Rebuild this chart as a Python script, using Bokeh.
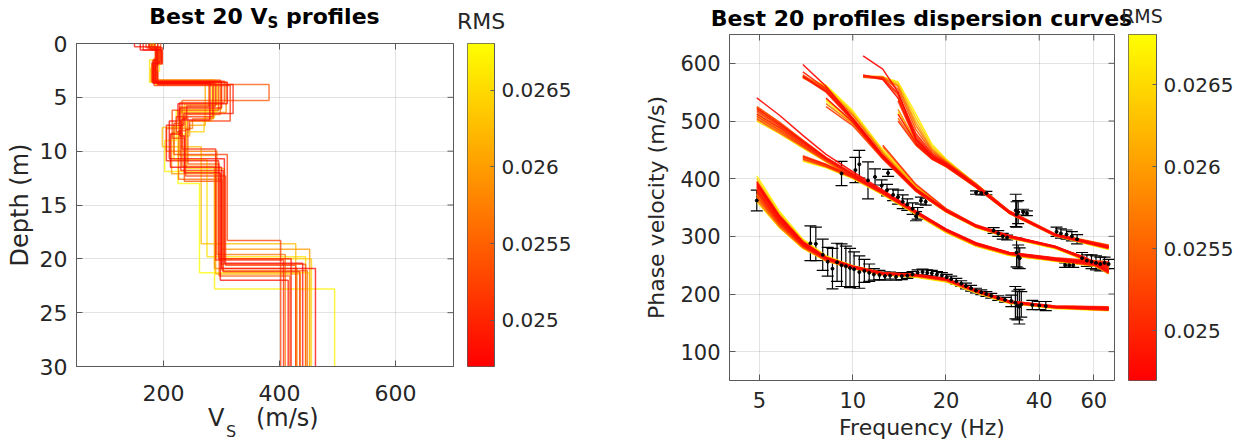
import numpy as np
from bokeh.plotting import figure
from bokeh.layouts import row, column
from bokeh.models import (Range1d, FixedTicker, LinearColorMapper,
                          CustomJSTickFormatter, PrintfTickFormatter, Whisker, TeeHead,
                          ColumnDataSource, Div)
from bokeh.embed import file_html
from bokeh.resources import INLINE

FONT = "DejaVu Sans"
AX = "#5a5a5a"
TXT = "#262626"

# ---------------- data ----------------
# misfit (RMS) of the 20 best models, best first
rms = [0.02475, 0.02478, 0.02482, 0.02490, 0.02498, 0.02505, 0.02512, 0.02520, 0.02530, 0.02542,
       0.02555, 0.02568, 0.02580, 0.02595, 0.02610, 0.02625, 0.02640, 0.02655, 0.02668, 0.02678]
rms_low, rms_high = 0.024698, 0.026805
rms_ticks = [0.025, 0.0255, 0.026, 0.0265]

# layer interface depths (m) of each model
depths = [
    [0.6, 1.8, 3.7, 7.1, 8.4, 11.5, 20.9],
    [0.4, 2.0, 3.6, 5.6, 7.2, 10.7, 20.4],
    [0.5, 1.5, 3.5, 6.0, 8.6, 12.0, 22.0],
    [0.3, 1.7, 3.8, 6.5, 7.6, 10.9, 20.0],
    [0.6, 2.5, 3.7, 5.8, 7.0, 9.8, 20.1],
    [0.5, 1.6, 3.6, 6.8, 8.2, 11.8, 21.2],
    [0.4, 1.9, 3.9, 7.2, 8.0, 12.3, 20.6],
    [0.6, 2.2, 3.5, 5.5, 7.4, 10.3, 18.3],
    [0.5, 1.8, 3.6, 6.2, 8.8, 12.8, 20.5],
    [0.3, 2.7, 3.8, 5.3, 6.9, 11.2, 21.6],
    [0.6, 1.6, 3.4, 6.6, 8.1, 12.6, 21.1],
    [0.5, 2.1, 3.7, 7.0, 7.9, 10.0, 19.6],
    [0.4, 1.4, 3.5, 5.9, 7.3, 11.4, 20.9],
    [0.6, 2.4, 3.6, 6.4, 8.3, 12.1, 19.1],
    [0.5, 1.7, 3.7, 7.6, 8.6, 10.4, 21.4],
    [0.4, 2.3, 3.5, 5.7, 7.8, 9.6, 18.6],
    [0.6, 1.9, 3.4, 6.9, 8.2, 11.6, 20.0],
    [0.3, 1.5, 3.6, 6.1, 7.7, 10.8, 19.8],
    [0.5, 2.6, 3.8, 6.3, 9.0, 11.9, 22.8],
    [0.4, 1.8, 3.5, 7.2, 8.4, 13.0, 21.3],
]
# shear-wave velocity (m/s) of each layer, last value is the half-space
vs = [
    [160, 197, 182, 280, 230, 212, 300, 462],
    [190, 188, 186, 310, 225, 210, 305, 440],
    [175, 190, 183, 300, 228, 236, 298, 415],
    [150, 195, 190, 320, 235, 205, 295, 420],
    [165, 186, 188, 290, 240, 232, 290, 407],
    [185, 192, 181, 285, 222, 230, 303, 435],
    [170, 198, 184, 315, 245, 238, 307, 428],
    [180, 189, 186, 305, 228, 218, 310, 402],
    [195, 193, 180, 295, 215, 236, 300, 445],
    [175, 187, 190, 382, 232, 242, 296, 418],
    [185, 196, 185, 298, 238, 226, 301, 448],
    [178, 190, 187, 286, 250, 205, 292, 410],
    [182, 194, 184, 278, 228, 232, 288, 430],
    [190, 188, 182, 308, 226, 214, 300, 452],
    [180, 192, 189, 272, 245, 228, 290, 436],
    [176, 186, 178, 292, 236, 198, 265, 428],
    [180, 197, 180, 288, 270, 240, 305, 455],
    [178, 189, 176, 300, 232, 218, 275, 445],
    [182, 193, 186, 294, 222, 202, 288, 495],
    [185, 191, 187, 283, 240, 225, 262, 452],
]
max_depth = 30

# theoretical dispersion curves: frequency grids (Hz) and phase velocities (m/s)
freq_m0 = [4.9, 5.8, 6.9, 8.2, 10.0, 12.5, 16.0, 20.0, 25.0, 32.0, 45.0, 67.0]
vel_m0 = [
    [392, 334, 290, 263, 248, 236, 233, 226, 206, 187, 178, 175],
    [388, 331, 287, 262, 247, 235, 232, 225, 205, 186, 177, 174],
    [380, 326, 285, 261, 246, 235, 233, 226, 206, 187, 178, 176],
    [395, 336, 291, 264, 248, 237, 234, 227, 207, 188, 179, 177],
    [375, 323, 284, 260, 246, 236, 233, 225, 205, 186, 177, 173],
    [384, 329, 287, 262, 247, 236, 232, 224, 204, 185, 176, 172],
    [390, 333, 289, 263, 248, 237, 234, 227, 207, 188, 179, 178],
    [370, 320, 282, 259, 245, 234, 231, 224, 204, 186, 177, 174],
    [386, 330, 288, 262, 247, 235, 232, 225, 205, 186, 177, 175],
    [378, 325, 285, 261, 246, 236, 233, 226, 206, 187, 178, 176],
    [366, 318, 281, 258, 245, 234, 231, 224, 204, 185, 176, 173],
    [382, 328, 286, 261, 246, 235, 232, 225, 205, 186, 177, 174],
    [362, 316, 280, 258, 244, 234, 231, 223, 203, 185, 176, 172],
    [374, 322, 283, 260, 245, 235, 232, 225, 205, 186, 177, 175],
    [396, 337, 292, 264, 248, 236, 232, 224, 204, 186, 177, 174],
    [368, 319, 282, 259, 245, 234, 230, 222, 203, 185, 176, 173],
    [400, 340, 293, 265, 249, 237, 233, 225, 205, 186, 177, 175],
    [372, 321, 283, 260, 245, 234, 230, 222, 202, 184, 175, 172],
    [405, 343, 295, 266, 249, 236, 231, 223, 203, 185, 176, 173],
    [360, 315, 279, 257, 244, 233, 229, 221, 202, 184, 175, 171],
]
freq_m1 = [4.9, 5.8, 6.9, 8.2, 10.0, 12.5, 16.0, 20.0, 25.0, 32.0, 45.0, 67.0]
vel_m1 = [
    [540, 510, 475, 442, 412, 380, 344, 313, 289, 272, 262, 251],
    [522, 495, 465, 436, 408, 377, 342, 311, 287, 270, 260, 250],
    [None, None, 438, 424, 404, 375, 341, 310, 286, 270, 259, 248],
    [512, 488, 460, 434, 407, 378, 343, 312, 288, 271, 261, 252],
    [518, 492, 463, 435, 406, 376, 342, 311, 287, 271, 262, 254],
    [None, None, 434, 421, 402, 374, 340, 309, 285, 269, 258, 246],
    [508, 484, 457, 432, 405, 376, 342, 312, 288, 272, 263, 256],
    [525, 498, 467, 437, 409, 378, 343, 312, 288, 271, 261, 250],
    [None, None, 440, 425, 405, 376, 342, 311, 287, 270, 259, 247],
    [503, 480, 455, 430, 404, 375, 341, 310, 286, 270, 260, 252],
    [515, 490, 462, 434, 406, 376, 341, 310, 286, 269, 259, 249],
    [None, None, 436, 422, 403, 375, 341, 311, 287, 271, 261, 253],
    [505, 482, 456, 431, 404, 374, 340, 309, 285, 269, 259, 250],
    [520, 494, 464, 435, 407, 377, 342, 311, 287, 270, 260, 251],
    [None, None, 432, 420, 401, 373, 339, 308, 284, 268, 258, 248],
    [510, 486, 458, 432, 404, 374, 339, 308, 284, 268, 258, 249],
    [None, None, 437, 423, 403, 374, 340, 309, 285, 269, 259, 250],
    [500, 478, 453, 429, 402, 373, 338, 307, 283, 267, 257, 247],
    [524, 497, 466, 436, 407, 375, 339, 307, 283, 267, 257, 246],
    [None, None, 430, 419, 400, 372, 338, 307, 283, 267, 257, 245],
]
freq_m2 = [6.9, 8.2, 10.0, 12.5, 16.0, 20.0, 25.0, 32.0, 45.0, 56.0, 67.0]
vel_m2 = [
    [598, 560, 505, 440, 382, 346, 319, 301, 283, 262, 238],
    [578, 552, 502, 438, 381, 345, 318, 300, 282, 263, 241],
    [None, 540, 498, 437, 380, 344, 317, 299, 281, 261, 239],
    [None, None, 500, 436, 379, 344, 318, 300, 282, 264, 243],
    [585, 556, 504, 440, 382, 346, 319, 301, 283, 262, 237],
    [None, None, None, 458, 390, 348, 320, 301, 282, 263, 242],
    [576, 550, 500, 436, 379, 343, 316, 298, 281, 262, 240],
    [None, 525, 492, 434, 378, 343, 317, 299, 281, 260, 236],
    [580, 554, 503, 439, 381, 345, 318, 300, 282, 263, 241],
    [None, None, 502, 437, 380, 344, 317, 299, 281, 261, 238],
    [575, 556, 510, 444, 383, 345, 317, 298, 280, 261, 240],
    [None, 530, 495, 435, 379, 344, 318, 300, 282, 263, 244],
    [577, 552, 505, 441, 382, 345, 317, 299, 281, 260, 236],
    [None, None, None, 455, 388, 347, 319, 300, 281, 262, 241],
    [578, 558, 512, 446, 385, 346, 317, 298, 280, 261, 239],
    [None, 538, 498, 437, 380, 344, 317, 299, 281, 262, 242],
    [576, 560, 515, 448, 386, 347, 318, 299, 280, 259, 235],
    [None, None, 500, 436, 379, 343, 316, 298, 280, 260, 237],
    [575, 562, 518, 450, 387, 347, 317, 297, 279, 260, 238],
    [None, 535, 497, 436, 379, 342, 315, 297, 279, 259, 236],
]
freq_m3 = [10.8, 12.5, 14.0, 16.0, 18.0, 20.0, 25.0, 32.0, 45.0, 67.0]
vel_m3 = [
    [613, 590, 550, 470, 440, 426, 388, 342, 303, 281],
    [580, 572, 540, 468, 438, 424, 387, 341, 302, 280],
    [None, None, 512, 462, 436, 423, 386, 341, 302, 282],
    [None, None, None, 460, 435, 422, 386, 342, 303, 284],
    [578, 575, 548, 478, 444, 428, 390, 344, 304, 283],
    [None, None, 500, 458, 434, 421, 385, 340, 301, 279],
    [None, None, 535, 466, 437, 423, 387, 342, 303, 283],
    [576, 573, 545, 474, 442, 426, 389, 343, 303, 281],
    [None, None, None, 462, 436, 423, 386, 341, 302, 282],
    [578, 576, 555, 485, 447, 429, 390, 343, 303, 282],
    [None, None, 505, 460, 435, 422, 386, 341, 302, 281],
    [577, 575, 560, 492, 450, 430, 391, 344, 304, 285],
    [None, None, 520, 464, 437, 423, 387, 342, 303, 282],
    [None, None, None, 458, 434, 421, 385, 340, 301, 280],
    [578, 577, 562, 498, 452, 431, 391, 343, 302, 279],
    [None, None, 540, 468, 439, 424, 387, 341, 302, 281],
    [576, 576, 565, 505, 456, 433, 391, 343, 302, 280],
    [None, None, None, 461, 436, 422, 385, 340, 301, 278],
    [577, 576, 568, 512, 460, 434, 390, 342, 301, 277],
    [None, None, 515, 463, 436, 422, 386, 341, 302, 284],
]

# picked experimental dispersion points with uncertainties
obs_freq = [4.9, 7.3, 7.6, 8.0, 8.3, 8.6, 8.9, 9.2, 9.5, 9.8, 10.1, 10.5, 10.9, 11.3, 11.7, 12.2,
            12.7, 13.2, 13.8, 14.4, 15.0, 15.6, 16.2, 16.8, 17.4, 18.0, 18.7, 19.4, 20.1, 20.8,
            21.6, 22.4, 23.2, 24.1, 25.0, 26.0, 27.0, 28.0, 29.5, 31.0, 32.5, 33.5, 34.0, 34.5,
            35.0, 38.0, 40.0, 42.0,
            9.2, 10.2, 10.5, 11.2, 11.8, 12.4, 12.9, 13.0, 13.5, 14.0, 14.5, 15.0, 15.6, 16.0,
            16.2, 16.6, 17.2, 25.0, 26.0, 27.0, 28.5, 29.5, 30.5, 31.5, 33.6, 33.8, 34.2, 35.5,
            36.5, 33.8, 34.2, 34.6, 45.5, 47.0, 49.0, 51.0, 53.0, 48.5, 50.0, 51.5, 55.0, 57.0,
            59.0, 61.0, 63.0, 65.0, 67.0]
obs_vel = [362, 288, 287, 268, 256, 244, 255, 250, 248, 245, 243, 238, 240, 237, 234, 233,
           231, 232, 230, 231, 232, 234, 237, 238, 237, 236, 234, 232, 229, 226,
           222, 218, 214, 210, 206, 203, 200, 197, 193, 190, 188, 185, 180, 178,
           182, 181, 180, 179,
           409, 415, 425, 397, 403, 388, 380, 410, 372, 368, 360, 355, 348, 335,
           340, 362, 360, 376, 375, 375, 310, 305, 300, 298, 345, 338, 342, 342,
           340, 272, 265, 262, 308, 305, 303, 300, 295, 250, 250, 250, 262, 258,
           256, 254, 252, 254, 252]
obs_err = [18, 30, 29, 27, 25, 35, 33, 37, 35, 34, 30, 28, 20, 15, 10, 8,
           7, 6, 6, 6, 5, 5, 5, 5, 5, 5, 5, 5, 5, 5,
           5, 5, 5, 5, 4, 4, 4, 4, 4, 4, 10, 28, 25, 30,
           22, 8, 7, 8,
           21, 22, 24, 32, 14, 10, 10, 6, 10, 12, 12, 10, 10, 8,
           10, 6, 6, 3, 3, 3, 5, 5, 5, 4, 28, 22, 20, 5,
           4, 25, 20, 18, 8, 8, 8, 8, 8, 4, 4, 4, 10, 10,
           12, 12, 12, 10, 8]

# ---------------- colours ----------------
autumn = ["#ff%02x00" % i for i in range(256)]


def autumn_color(v):
    t = min(max((v - rms_low) / (rms_high - rms_low), 0.0), 1.0)
    return "#ff%02x00" % int(round(255 * t))


colors = [autumn_color(r) for r in rms]
draw_order = list(range(len(rms)))[::-1]   # worst first, best on top


def style_axes(p, tick_size, label_size):
    for ax in p.axis:
        ax.axis_line_color = AX
        ax.major_tick_line_color = AX
        ax.major_tick_in = 6
        ax.major_tick_out = 0
        ax.minor_tick_line_color = None
        ax.major_label_text_font = FONT
        ax.major_label_text_font_size = tick_size
        ax.major_label_text_color = TXT
        ax.axis_label_text_font = FONT
        ax.axis_label_text_font_size = label_size
        ax.axis_label_text_font_style = "normal"
        ax.axis_label_text_color = TXT
    p.grid.grid_line_color = TXT
    p.grid.grid_line_alpha = 0.13
    p.outline_line_color = AX
    p.background_fill_color = "white"
    p.border_fill_color = "white"


def mirror_ticks(p, xs, ys, angle):
    # inward tick marks on the top and right edges of the box (half clipped by the frame)
    p.scatter(x=xs, y=ys, marker="dash", angle=angle, size=12, line_color=AX, line_width=1)


def colorbar_fig(width, height, frame_w, top, bottom):
    cb = figure(width=width, height=height, min_border_left=0, min_border_right=width - frame_w,
                min_border_top=top, min_border_bottom=bottom, x_range=Range1d(0, 1),
                y_range=Range1d(rms_low, rms_high), title=None, x_axis_location=None,
                y_axis_location="right", output_backend="svg", toolbar_location=None)
    mapper = LinearColorMapper(palette=autumn, low=rms_low, high=rms_high)
    levels = np.linspace(rms_low, rms_high, 256).reshape(256, 1)
    cb.image(image=[levels], x=0, y=rms_low, dw=1, dh=rms_high - rms_low, color_mapper=mapper)
    ax = cb.yaxis[0]
    ax.ticker = FixedTicker(ticks=rms_ticks)
    ax.formatter = CustomJSTickFormatter(code="return String(tick)")
    ax.major_label_text_font = FONT
    ax.major_label_text_font_size = "20px"
    ax.major_label_text_color = TXT
    ax.major_label_standoff = 7
    ax.major_tick_in = 4
    ax.major_tick_out = 0
    ax.major_tick_line_color = AX
    ax.minor_tick_line_color = None
    ax.axis_line_color = AX
    cb.grid.visible = False
    cb.outline_line_color = AX
    cb.border_fill_color = "white"
    return cb


def text_span(txt, left, top, width, size, bold=False, align="center", lh=None):
    lh = size if lh is None else lh
    weight = "bold" if bold else "normal"
    return (f'<span style="position:absolute;left:{left}px;top:{top}px;width:{width}px;'
            f'text-align:{align};font-family:\'{FONT}\';font-size:{size}px;line-height:{lh}px;'
            f'font-weight:{weight};color:{"#000" if bold else TXT};white-space:nowrap;">{txt}</span>')


def box(w, h, inner):
    return f'<div style="position:relative;width:{w}px;height:{h}px;overflow:visible;">{inner}</div>'


# ---------------- left: Vs profiles ----------------
depth_ticks = [0, 5, 10, 15, 20, 25, 30]
vs_ticks = [200, 400, 600]

p1 = figure(width=467, height=380, min_border_left=76, min_border_right=14,
            min_border_top=13, min_border_bottom=44, x_range=Range1d(50, 700),
            y_range=Range1d(30, 0), title=None, output_backend="svg", toolbar_location=None)
p1.xaxis.ticker = FixedTicker(ticks=vs_ticks)
p1.yaxis.ticker = FixedTicker(ticks=depth_ticks)
p1.yaxis.axis_label = "Depth (m)"
p1.yaxis.major_label_standoff = 9
p1.yaxis.axis_label_standoff = 3
p1.xaxis.major_label_standoff = 18
style_axes(p1, "22px", "24px")

prof_xs, prof_ys, prof_c = [], [], []
for i in draw_order:
    d, v = depths[i], vs[i]
    xs = [x for x in v for _ in (0, 1)]
    ys = [0] + [z for z in d for _ in (0, 1)] + [max_depth]
    prof_xs.append(xs)
    prof_ys.append(ys)
    prof_c.append(colors[i])
p1.multi_line(xs="xs", ys="ys", line_color="c", line_width=1.5, line_alpha=0.75,
              source=ColumnDataSource(dict(xs=prof_xs, ys=prof_ys, c=prof_c)))
mirror_ticks(p1, vs_ticks, [0] * len(vs_ticks), np.pi / 2)
mirror_ticks(p1, [700] * len(depth_ticks), depth_ticks, 0)

cb1 = colorbar_fig(153, 380, 27, 13, 44)

left_head = Div(width=620, height=30, margin=0, text=box(620, 30,
    text_span('Best 20 V<span style="font-size:15px;vertical-align:-4px;line-height:0;">S</span>'
              ' profiles', 0, 6, 529, 22, bold=True)
    + text_span("RMS", 431, 11, 100, 22)))
left_foot = Div(width=620, height=35, margin=0, text=box(620, 35,
    text_span("V", 208, 0, 30, 24, align="left", lh=16)
    + text_span("S", 226, 14, 20, 16, align="left", lh=16)
    + text_span("(m/s)", 256, 0, 80, 24, align="left", lh=16)))

# ---------------- right: dispersion curves ----------------
freq_ticks = [5, 10, 20, 40, 60]
vel_ticks = [100, 200, 300, 400, 500, 600]

p2 = figure(width=508, height=411, min_border_left=109, min_border_right=14,
            min_border_top=0, min_border_bottom=65, x_axis_type="log",
            x_range=Range1d(4, 70), y_range=Range1d(50, 650), title=None,
            output_backend="svg", toolbar_location=None)
p2.xaxis.ticker = FixedTicker(ticks=freq_ticks)
p2.xaxis.formatter = PrintfTickFormatter(format="%d")
p2.yaxis.ticker = FixedTicker(ticks=vel_ticks)
p2.xaxis.axis_label = "Frequency (Hz)"
p2.yaxis.axis_label = "Phase velocity (m/s)"
p2.yaxis.major_label_standoff = 9
p2.yaxis.axis_label_standoff = 8
p2.xaxis.major_label_standoff = 11
p2.xaxis.axis_label_standoff = 4
style_axes(p2, "21px", "22px")


def nan_list(vals):
    return [np.nan if v is None else float(v) for v in vals]


curve_xs, curve_ys, curve_c = [], [], []
for i in draw_order:
    for f, table in ((freq_m0, vel_m0), (freq_m1, vel_m1), (freq_m2, vel_m2), (freq_m3, vel_m3)):
        curve_xs.append(list(map(float, f)))
        curve_ys.append(nan_list(table[i]))
        curve_c.append(colors[i])
p2.multi_line(xs="xs", ys="ys", line_color="c", line_width=1.5, line_alpha=0.9,
              source=ColumnDataSource(dict(xs=curve_xs, ys=curve_ys, c=curve_c)))

obs = ColumnDataSource(dict(f=obs_freq, v=obs_vel,
                            lo=[v - e for v, e in zip(obs_vel, obs_err)],
                            hi=[v + e for v, e in zip(obs_vel, obs_err)]))
p2.add_layout(Whisker(source=obs, base="f", lower="lo", upper="hi", dimension="height",
                      line_color="black", line_width=1.2,
                      lower_head=TeeHead(size=12, line_color="black", line_width=1.2),
                      upper_head=TeeHead(size=12, line_color="black", line_width=1.2)))
p2.scatter(x="f", y="v", source=obs, size=3, color="black")
mirror_ticks(p2, freq_ticks, [650] * len(freq_ticks), np.pi / 2)
mirror_ticks(p2, [70] * len(vel_ticks), vel_ticks, 0)

cb2 = colorbar_fig(115, 411, 28, 0, 65)

right_head = Div(width=623, height=34, margin=0, text=box(623, 34,
    text_span("Best 20 profiles dispersion curves", 0, 8, 603, 22, bold=True)
    + text_span("RMS", 472, 7, 100, 19)))

layout = row(column(left_head, row(p1, cb1, spacing=0), left_foot, spacing=0),
             column(right_head, row(p2, cb2, spacing=0), spacing=0), spacing=0)
open("out.html", "w").write(file_html(layout, INLINE))
